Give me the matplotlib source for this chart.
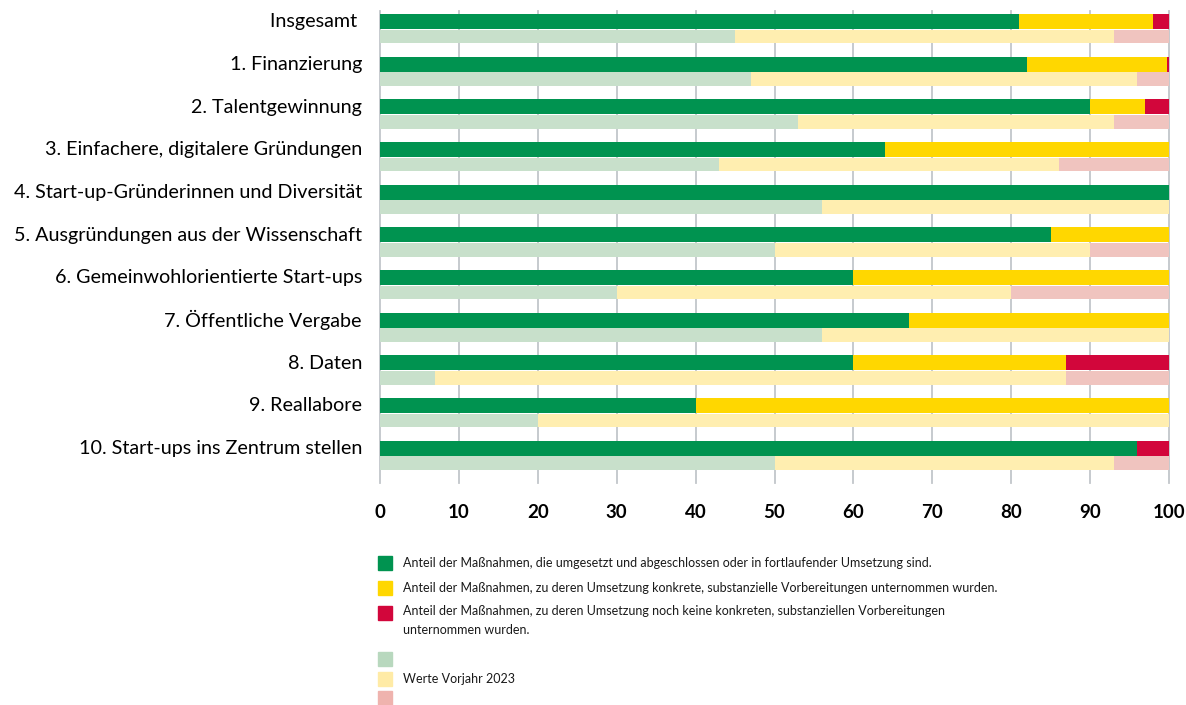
import matplotlib
matplotlib.use("Agg")
import matplotlib.pyplot as plt
from matplotlib.patches import Rectangle

matplotlib.rcParams["font.family"] = ["Lato", "DejaVu Sans"]

W, H = 1186, 705

categories = [
    "Insgesamt ",
    "1. Finanzierung",
    "2. Talentgewinnung",
    "3. Einfachere, digitalere Gründungen",
    "4. Start-up-Gründerinnen und Diversität",
    "5. Ausgründungen aus der Wissenschaft",
    "6. Gemeinwohlorientierte Start-ups",
    "7. Öffentliche Vergabe",
    "8. Daten",
    "9. Reallabore",
    "10. Start-ups ins Zentrum stellen",
]

# 2024 (aktuell): umgesetzt / vorbereitet / keine Vorbereitungen
green_2024 = [81, 82, 90, 64, 100, 85, 60, 67, 60, 40, 96]
yellow_2024 = [17, 17.8, 7, 36, 0, 15, 40, 33, 27, 60, 0]
red_2024 = [2, 0.2, 3, 0, 0, 0, 0, 0, 13, 0, 4]

# Vorjahr 2023
green_2023 = [45, 47, 53, 43, 56, 50, 30, 56, 7, 20, 50]
yellow_2023 = [48, 49, 40, 43, 44, 40, 50, 44, 80, 80, 43]
red_2023 = [7, 4, 7, 14, 0, 10, 20, 0, 13, 0, 7]

ticks = list(range(0, 101, 10))

legend_texts = [
    "Anteil der Maßnahmen, die umgesetzt und abgeschlossen oder in fortlaufender Umsetzung sind.",
    "Anteil der Maßnahmen, zu deren Umsetzung konkrete, substanzielle Vorbereitungen unternommen wurden.",
    "Anteil der Maßnahmen, zu deren Umsetzung noch keine konkreten, substanziellen Vorbereitungen\nunternommen wurden.",
    "Werte Vorjahr 2023",
]

GREEN, YELLOW, RED = "#009350", "#FFD700", "#D2063B"
LGREEN, LYELLOW, LRED = "#C8E0CB", "#FFEEB0", "#F0C4BF"

fig = plt.figure(figsize=(W / 100, H / 100), dpi=100)

# axes box in pixels: x 380..1169, y 11..483
ax = fig.add_axes([380 / W, 1 - 483 / H, 789 / W, 472 / H])

step = 42.67
cur_h = 15 / step
prev_h = 13.7 / step
prev_off = 15 / step

pos = list(range(len(categories)))
cur_y = pos
prev_y = [p + prev_off for p in pos]

ax.barh(cur_y, green_2024, height=cur_h, color=GREEN, zorder=3)
ax.barh(cur_y, yellow_2024, left=green_2024, height=cur_h, color=YELLOW, zorder=3)
left_r = [g + y for g, y in zip(green_2024, yellow_2024)]
ax.barh(cur_y, red_2024, left=left_r, height=cur_h, color=RED, zorder=3)

ax.barh(prev_y, green_2023, height=prev_h, color=LGREEN, zorder=3)
ax.barh(prev_y, yellow_2023, left=green_2023, height=prev_h, color=LYELLOW, zorder=3)
left_p = [g + y for g, y in zip(green_2023, yellow_2023)]
ax.barh(prev_y, red_2023, left=left_p, height=prev_h, color=LRED, zorder=3)

ax.set_xlim(0, 100)
ax.set_ylim((483 - 21.5) / step, (11 - 21.5) / step)

for t in ticks:
    ax.axvline(t, color="#C2C6CA", linewidth=1.3, zorder=1, clip_on=False)

for s in ax.spines.values():
    s.set_visible(False)

ax.set_xticks(ticks)
ax.set_xticklabels([str(t) for t in ticks], fontweight="bold", fontsize=13.5)
ax.tick_params(axis="x", length=0, pad=15)
ax.set_yticks([p - 0.03 for p in cur_y])
ax.set_yticklabels(categories, fontsize=14.2)
ax.tick_params(axis="y", length=0, pad=13)


def px(x, y):
    return x / W, 1 - y / H


# legend drawn by hand
sq = [
    (563, GREEN), (588, YELLOW), (613, RED),
    (659, "#B8D8BE"), (679, "#FFEBA6"), (698, "#EFB3AE"),
]
for yc, col in sq:
    x0, y0 = px(378, yc + 7)
    fig.patches.append(Rectangle((x0, y0), 14 / W, 14 / H, transform=fig.transFigure,
                                 color=col, figure=fig))

for yc, txt in zip([563, 588, 613, 679], legend_texts):
    x0, y0 = px(403, yc)
    if "\n" in txt:
        fig.text(x0, 1 - (yc - 8) / H, txt, fontsize=9, va="top", ha="left",
                 linespacing=1.65, color="#1a1a1a")
    else:
        fig.text(x0, y0, txt, fontsize=9, va="center", ha="left", color="#1a1a1a")

fig.savefig("out.png", dpi=100)
